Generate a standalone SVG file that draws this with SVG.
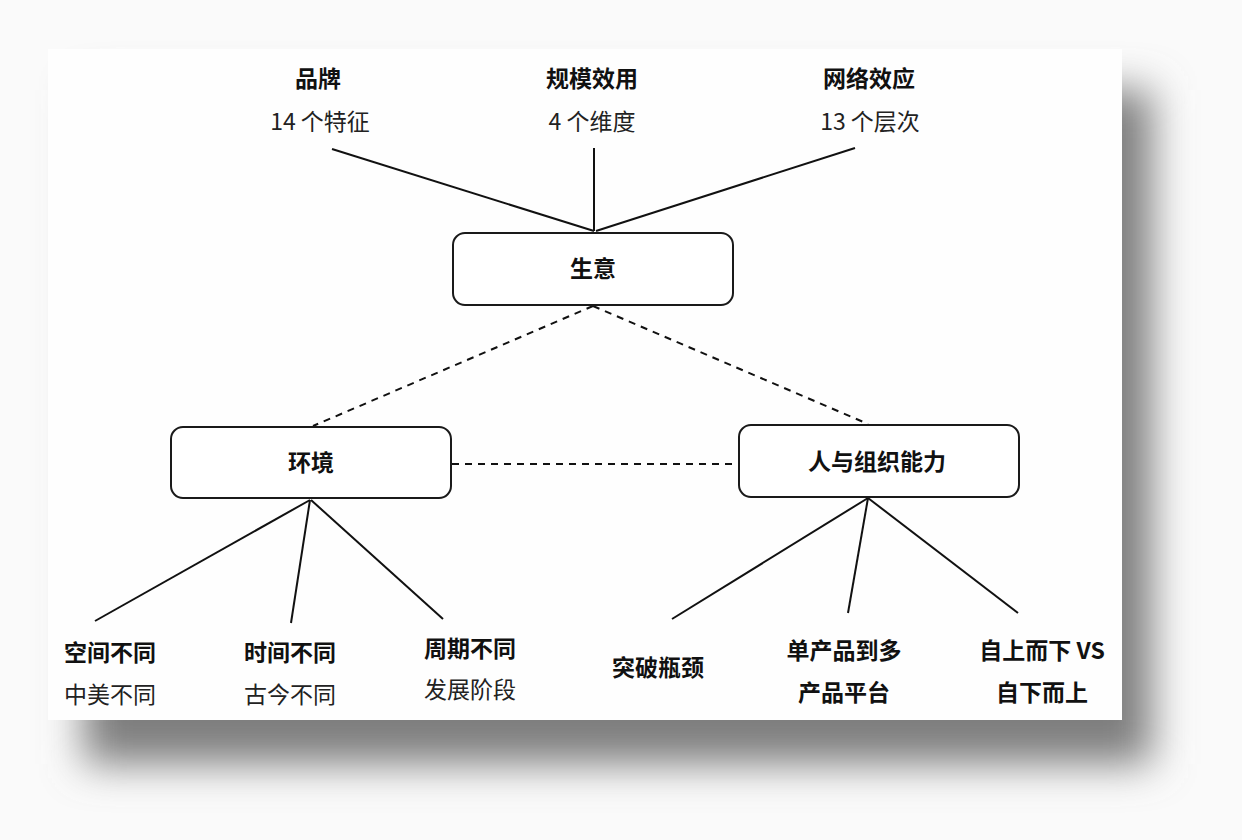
<svg xmlns="http://www.w3.org/2000/svg" width="1242" height="840" viewBox="0 0 1242 840">
<defs>
<filter id="sh" x="-10%" y="-10%" width="120%" height="120%">
<feGaussianBlur stdDeviation="20"/>
</filter>
</defs>
<style>
.box{fill:#fff;stroke:#1a1a1a;stroke-width:2}
.t{font-family:"Noto Sans CJK SC","Noto Sans",sans-serif;font-size:23px;fill:#111;text-anchor:middle}
.b{font-weight:bold}
.r{font-weight:normal;fill:#222}
.ln{stroke:#111;stroke-width:2;fill:none}
.ds{stroke:#111;stroke-width:2;fill:none;stroke-dasharray:7 6}
</style>
<rect x="0" y="0" width="1242" height="840" fill="#fafafa"/>
<rect x="84" y="90" width="1068" height="674" fill="#7e7e7e" filter="url(#sh)"/>
<rect x="48" y="49" width="1074" height="671" fill="#fefefe"/>
<g id="connectors">
<line class="ln" x1="332" y1="149" x2="594" y2="231"/>
<line class="ln" x1="594" y1="148" x2="594" y2="231"/>
<line class="ln" x1="855" y1="148" x2="596" y2="231"/>
<line class="ds" x1="593" y1="306" x2="313" y2="426"/>
<line class="ds" x1="593" y1="306" x2="868" y2="424"/>
<line class="ds" x1="452" y1="464" x2="738" y2="464"/>
<line class="ln" x1="310" y1="500" x2="95" y2="621"/>
<line class="ln" x1="310" y1="500" x2="291" y2="623"/>
<line class="ln" x1="311" y1="500" x2="443" y2="619"/>
<line class="ln" x1="868" y1="498" x2="672" y2="619"/>
<line class="ln" x1="868" y1="498" x2="848" y2="613"/>
<line class="ln" x1="868" y1="498" x2="1018" y2="613"/>
</g>
<g id="top-brand">
<text class="t b" x="318" y="87">品牌</text>
<text class="t r" x="320" y="130">14 个特征</text>
</g>
<g id="top-scale">
<text class="t b" x="592" y="87">规模效用</text>
<text class="t r" x="592" y="130">4 个维度</text>
</g>
<g id="top-network">
<text class="t b" x="869" y="87">网络效应</text>
<text class="t r" x="870" y="130">13 个层次</text>
</g>
<g id="node-business">
<rect class="box" x="453" y="233" width="280" height="72" rx="12"/>
<text class="t b" x="593" y="277">生意</text>
</g>
<g id="node-env">
<rect class="box" x="171" y="427" width="280" height="71" rx="12"/>
<text class="t b" x="311" y="471">环境</text>
</g>
<g id="node-people">
<rect class="box" x="739" y="425" width="280" height="72" rx="12"/>
<text class="t b" x="877" y="470">人与组织能力</text>
</g>
<g id="leaf-space">
<text class="t b" x="110" y="661">空间不同</text>
<text class="t r" x="110" y="703">中美不同</text>
</g>
<g id="leaf-time">
<text class="t b" x="290" y="661">时间不同</text>
<text class="t r" x="290" y="703">古今不同</text>
</g>
<g id="leaf-cycle">
<text class="t b" x="470" y="657">周期不同</text>
<text class="t r" x="470" y="698">发展阶段</text>
</g>
<g id="leaf-break">
<text class="t b" x="658" y="676">突破瓶颈</text>
</g>
<g id="leaf-product">
<text class="t b" x="844" y="659">单产品到多</text>
<text class="t b" x="844" y="701">产品平台</text>
</g>
<g id="leaf-updown">
<text class="t b" x="1042" y="659">自上而下 VS</text>
<text class="t b" x="1042" y="701">自下而上</text>
</g>
</svg>
